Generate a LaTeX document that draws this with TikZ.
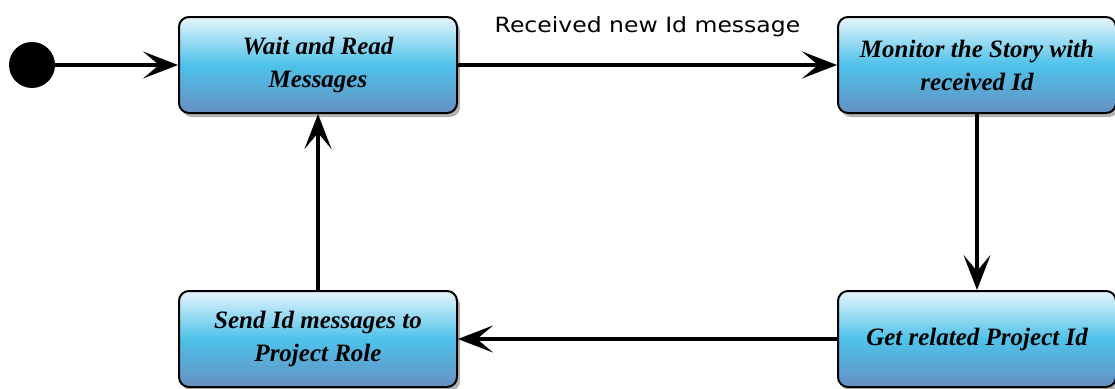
\documentclass[tikz,border=0pt]{standalone}
\usepackage{fontspec}
\usepackage{graphicx}
\setmainfont{Liberation Serif}
\newfontfamily\labelfont{DejaVu Sans}
\usetikzlibrary{arrows.meta,shadows}
\definecolor{boxtop}{HTML}{E6F5FC}
\definecolor{boxmid}{HTML}{4EC2EA}
\definecolor{boxbot}{HTML}{6690C2}
\tikzset{
  state/.style={draw=black, line width=2pt, rounded corners=10pt,
    top color=boxtop, bottom color=boxbot, middle color=boxmid,
    minimum width=278pt, minimum height=96pt, inner sep=0pt, align=center,
    font=\fontsize{25}{33}\selectfont\bfseries\itshape,
    drop shadow={shadow xshift=3pt, shadow yshift=-4pt, opacity=0.3, fill=black}},
  flow/.style={line width=3.5pt, -{Stealth[length=35pt, width=27pt, inset=16pt]}},
  startdot/.style={circle, fill=black, minimum size=46pt, inner sep=0pt},
  edgelabel/.style={font=\labelfont\fontsize{21}{24}\selectfont, inner sep=0pt}
}
\begin{document}
\begin{tikzpicture}[x=1pt,y=-1pt]
\useasboundingbox (0,0) rectangle (1115,388);
\node[startdot] (start) at (32,65) {};
\node[state] (wait) at (318,65) {Wait and Read\\Messages};
\node[state] (monitor) at (977,65) {Monitor the Story with\\received Id};
\node[state] (get) at (977,339) {Get related Project Id};
\node[state] (send) at (318,339) {Send Id messages to\\Project Role};
\draw[flow] (start) -- (wait);
\draw[flow] (wait) -- (monitor) node[edgelabel, midway, above=26pt] (lbl) {\scalebox{1.12}[1]{Received new Id message}};
\draw[flow] (monitor) -- (get);
\draw[flow] (get) -- (send);
\draw[flow] (send) -- (wait);
\end{tikzpicture}
\end{document}
